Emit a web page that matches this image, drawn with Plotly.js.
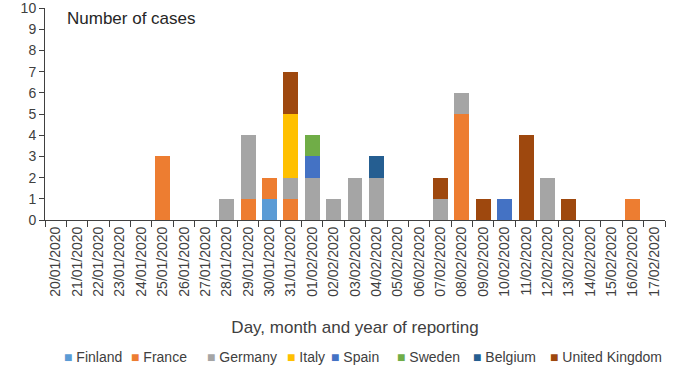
<!DOCTYPE html>
<html><head><meta charset="utf-8">
<script src="https://cdn.plot.ly/plotly-3.0.1.min.js"></script>
<style>html,body{margin:0;padding:0;background:#fff;overflow:hidden}#c{width:700px;height:368px}</style>
</head><body><div id="c"></div>
<script>
const dates = ["20/01/2020","21/01/2020","22/01/2020","23/01/2020","24/01/2020","25/01/2020","26/01/2020","27/01/2020","28/01/2020","29/01/2020","30/01/2020","31/01/2020","01/02/2020","02/02/2020","03/02/2020","04/02/2020","05/02/2020","06/02/2020","07/02/2020","08/02/2020","09/02/2020","10/02/2020","11/02/2020","12/02/2020","13/02/2020","14/02/2020","15/02/2020","16/02/2020","17/02/2020"];
const finland = [0,0,0,0,0,0,0,0,0,0,1,0,0,0,0,0,0,0,0,0,0,0,0,0,0,0,0,0,0];
const france  = [0,0,0,0,0,3,0,0,0,1,1,1,0,0,0,0,0,0,0,5,0,0,0,0,0,0,0,1,0];
const germany = [0,0,0,0,0,0,0,0,1,3,0,1,2,1,2,2,0,0,1,1,0,0,0,2,0,0,0,0,0];
const italy   = [0,0,0,0,0,0,0,0,0,0,0,3,0,0,0,0,0,0,0,0,0,0,0,0,0,0,0,0,0];
const spain   = [0,0,0,0,0,0,0,0,0,0,0,0,1,0,0,0,0,0,0,0,0,1,0,0,0,0,0,0,0];
const sweden  = [0,0,0,0,0,0,0,0,0,0,0,0,1,0,0,0,0,0,0,0,0,0,0,0,0,0,0,0,0];
const belgium = [0,0,0,0,0,0,0,0,0,0,0,0,0,0,0,1,0,0,0,0,0,0,0,0,0,0,0,0,0];
const uk      = [0,0,0,0,0,0,0,0,0,0,0,2,0,0,0,0,0,0,1,0,1,0,4,0,1,0,0,0,0];
const seriesNames = ["Finland","France","Germany","Italy","Spain","Sweden","Belgium","United Kingdom"];
const seriesVals = [finland,france,germany,italy,spain,sweden,belgium,uk];

// styling (not data)
const colors = ["#5B9BD5","#ED7D31","#A5A5A5","#FFC000","#4472C4","#70AD47","#255E91","#9E480E"];
const legendLeftPx = [62,129,205,285,329,395,471,548];
const plotL = 45, plotW = 620, plotH = 212;

const traces = seriesNames.map((n,i)=>({
  type:'bar', name:n, x:dates, y:seriesVals[i],
  marker:{color:colors[i], line:{width:0}}
}));
const font = "Liberation Sans, Arial, sans-serif";
const legendAnns = seriesNames.map((n,i)=>({
  text:'<span style="color:'+colors[i]+'">■</span> '+n,
  xref:'paper', yref:'paper', x:(legendLeftPx[i]-plotL)/plotW, y:-137/plotH,
  xanchor:'left', yanchor:'middle', showarrow:false,
  font:{size:14, color:'#404040', family:font}
}));
const layout = {
  width:700, height:368,
  margin:{l:45, r:35, t:8, b:148, autoexpand:false},
  barmode:'stack', bargap:0.3,
  paper_bgcolor:'#fff', plot_bgcolor:'#fff',
  font:{family:font, color:'#404040', size:14},
  showlegend:false,
  xaxis:{type:'category', tickangle:-90, tickson:'boundaries', ticks:'outside', ticklen:6,
         tickcolor:'#404040', showline:true, linecolor:'#404040', linewidth:1, showgrid:false,
         tickfont:{size:14, color:'#404040'}, automargin:false,
         title:{text:'Day, month and year of reporting', font:{size:17, color:'#404040'}, standoff:25}},
  yaxis:{range:[0,10], dtick:1, ticks:'outside', ticklen:5, tickcolor:'#404040', showline:true,
         linecolor:'#404040', showgrid:false, zeroline:false, tickfont:{size:14, color:'#404040'},
         automargin:false, ticklabeloverflow:'allow'},
  annotations:[{text:'Number of cases', xref:'paper', yref:'paper', x:0.032, y:202/plotH,
    xanchor:'left', yanchor:'middle', showarrow:false, font:{size:17, color:'#262626'}}].concat(legendAnns)
};
Plotly.newPlot('c', traces, layout, {displayModeBar:false, staticPlot:true});
</script></body></html>
